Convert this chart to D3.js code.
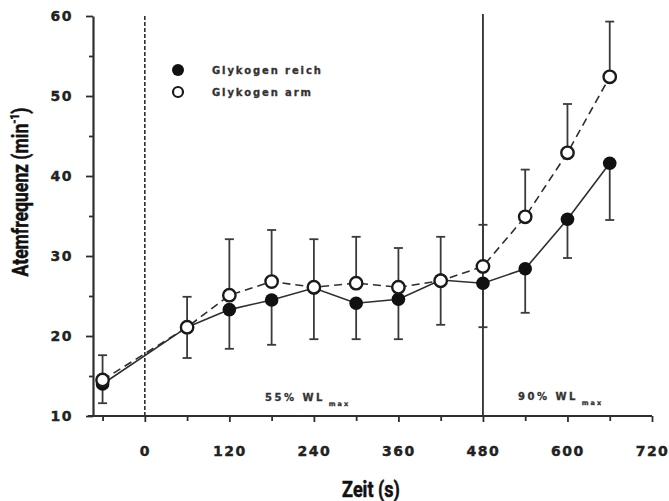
<!DOCTYPE html>
<html>
<head>
<meta charset="utf-8">
<script src="https://cdn.jsdelivr.net/npm/d3@7"></script>
<style>
body { margin: 0; background: #fff; }
.tick text { font: bold 14px "DejaVu Sans", sans-serif; letter-spacing: 1.5px; fill: #222; stroke: #222; stroke-width: 0.4px; }
.note { font: bold 10px "DejaVu Sans", sans-serif; letter-spacing: 2.5px; fill: #333; stroke: #333; stroke-width: 0.3px; }
.legend text { font: bold 10px "DejaVu Sans", sans-serif; letter-spacing: 1.9px; fill: #333; stroke: #333; stroke-width: 0.3px; }
.title { font: bold 22px Roboto, sans-serif; fill: #111; stroke: #111; stroke-width: 0.5px; }
</style>
</head>
<body>
<svg id="chart" width="669" height="501"></svg>
<script>
// Zeitpunkte (s) und Mittelwerte
var zeit = [-60, 60, 120, 180, 240, 300, 360, 420, 480, 540, 600, 660];
var reich = [14.0, 21.1, 23.3, 24.5, 26.0, 24.1, 24.6, 27.0, 26.6, 28.4, 34.6, 41.6];
var arm = [14.5, 21.1, 25.1, 26.8, 26.1, 26.6, 26.1, 26.9, 28.7, 34.9, 42.9, 52.4];
// SD: reich nach unten, arm nach oben
var reichSD = [2.4, 3.85, 4.9, 5.6, 6.4, 4.5, 5.0, 5.6, 5.5, 5.5, 4.85, 7.1];
var armSD = [3.1, 3.8, 7.0, 6.45, 6.0, 5.8, 4.9, 5.5, 5.2, 5.9, 6.1, 6.9];

var xTicks = [0, 120, 240, 360, 480, 600, 720];
var xMinor = [-60, 60, 180, 300, 420, 540, 660];
var yTicks = [10, 20, 30, 40, 50, 60];
var yMinor = [15, 25, 35, 45, 55];

var svg = d3.select("#chart");
var x = d3.scaleLinear().domain([-75, 720]).range([92, 652]);
var y = d3.scaleLinear().domain([10, 60]).range([416, 16]);
var ink = "#2e2e2e";

// minor ticks
svg.append("g").attr("transform", "translate(0,416)")
  .call(d3.axisBottom(x).tickValues(xMinor).tickSize(5).tickFormat(""))
  .call(function(g) { g.select(".domain").remove(); g.selectAll("line").attr("stroke", ink).attr("stroke-width", 1.5); });
svg.append("g").attr("transform", "translate(93,0)")
  .call(d3.axisLeft(y).tickValues(yMinor).tickSize(4).tickFormat(""))
  .call(function(g) { g.select(".domain").remove(); g.selectAll("line").attr("stroke", ink).attr("stroke-width", 1.5); });

// main axes
var xAxis = svg.append("g").attr("transform", "translate(0,416)")
  .call(d3.axisBottom(x).tickValues(xTicks).tickSize(6).tickSizeOuter(0).tickPadding(24));
xAxis.select(".domain").attr("d", "M" + (x.range()[0] - 4) + ",0H" + x.range()[1]);
var yAxis = svg.append("g").attr("transform", "translate(93,0)")
  .call(d3.axisLeft(y).tickValues(yTicks).tickSize(7).tickSizeOuter(0).tickPadding(13));
svg.selectAll(".domain").attr("stroke", ink).attr("stroke-width", 2.2);
svg.selectAll(".tick line").attr("stroke", ink).attr("stroke-width", 1.8);

// Belastungsbeginn / Wechsel
svg.append("line").attr("x1", x(0)).attr("x2", x(0)).attr("y1", y(60)).attr("y2", y(10))
  .attr("stroke", ink).attr("stroke-width", 1.6).attr("stroke-dasharray", "4,2");
svg.append("line").attr("x1", x(480)).attr("x2", x(480)).attr("y1", y(60) - 2).attr("y2", y(10))
  .attr("stroke", ink).attr("stroke-width", 1.8);

// Fehlerbalken
function bars(vals, sd, dir) {
  var g = svg.append("g").attr("stroke", "#3a3a3a").attr("stroke-width", 1.8);
  zeit.forEach(function(t, i) {
    var end = vals[i] + dir * sd[i];
    g.append("line").attr("x1", x(t)).attr("x2", x(t)).attr("y1", y(vals[i])).attr("y2", y(end));
    g.append("line").attr("x1", x(t) - 4.5).attr("x2", x(t) + 4.5).attr("y1", y(end)).attr("y2", y(end));
  });
}
bars(arm, armSD, 1);
bars(reich, reichSD, -1);

var line = d3.line().x(function(d, i) { return x(zeit[i]); }).y(function(d) { return y(d); });
svg.append("path").datum(reich).attr("d", line).attr("fill", "none")
  .attr("stroke", ink).attr("stroke-width", 1.6);
svg.append("path").datum(arm).attr("d", line).attr("fill", "none")
  .attr("stroke", ink).attr("stroke-width", 1.6).attr("stroke-dasharray", "8,5");

svg.append("g").selectAll("circle").data(reich).enter().append("circle")
  .attr("cx", function(d, i) { return x(zeit[i]); }).attr("cy", function(d) { return y(d); })
  .attr("r", 6.8).attr("fill", "#111");
svg.append("g").selectAll("circle").data(arm).enter().append("circle")
  .attr("cx", function(d, i) { return x(zeit[i]); }).attr("cy", function(d) { return y(d); })
  .attr("r", 6.2).attr("fill", "#fff").attr("stroke", "#1a1a1a").attr("stroke-width", 2.4);

// Legende
var leg = svg.append("g").attr("class", "legend");
leg.append("circle").attr("cx", 178).attr("cy", 70).attr("r", 6).attr("fill", "#111");
leg.append("circle").attr("cx", 178).attr("cy", 92).attr("r", 5).attr("fill", "#fff").attr("stroke", "#1a1a1a").attr("stroke-width", 2.2);
leg.append("text").attr("x", 212).attr("y", 74).text("Glykogen reich");
leg.append("text").attr("x", 212).attr("y", 96).text("Glykogen arm");

// Intensitaet
var n1 = svg.append("text").attr("class", "note").attr("x", 265).attr("y", 401);
n1.append("tspan").text("55% WL");
n1.append("tspan").attr("dx", 4).attr("dy", 5).attr("font-size", "6.5px").attr("letter-spacing", "2px").text("max");
var n2 = svg.append("text").attr("class", "note").attr("x", 518).attr("y", 400);
n2.append("tspan").text("90% WL");
n2.append("tspan").attr("dx", 4).attr("dy", 5).attr("font-size", "6.5px").attr("letter-spacing", "2px").text("max");

// Achsentitel
svg.append("text").attr("class", "title").attr("text-anchor", "middle")
  .attr("transform", "translate(371,497) scale(0.82,1)").text("Zeit (s)");
var yl = svg.append("text").attr("class", "title").attr("text-anchor", "middle")
  .attr("transform", "translate(28,192) rotate(-90) scale(0.8,1)");
yl.append("tspan").text("Atemfrequenz (min");
yl.append("tspan").attr("dy", -9).attr("font-size", "13px").text("-1");
yl.append("tspan").attr("dy", 9).text(")");
</script>
</body>
</html>
